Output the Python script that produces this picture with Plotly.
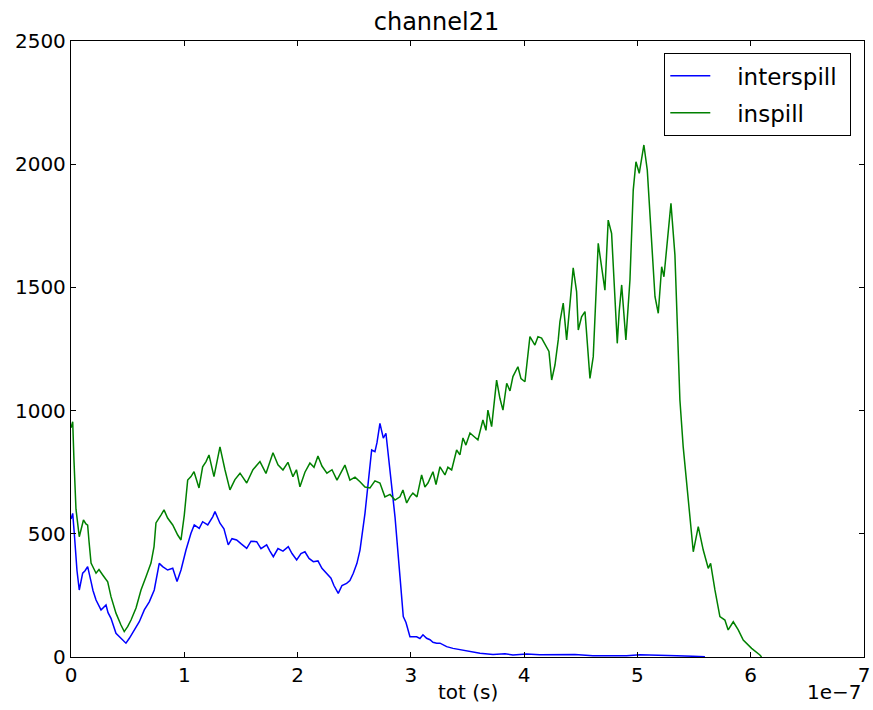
import plotly.graph_objects as go

# x values in units of 1e-7 s (tot), y values = counts
inspill_x = [0.0, 0.015, 0.026, 0.044, 0.073, 0.088, 0.110, 0.132, 0.147, 0.159, 0.177, 0.221, 0.247, 0.280, 0.300,
             0.324, 0.353, 0.397, 0.441, 0.470, 0.500, 0.530, 0.574, 0.618, 0.662, 0.706, 0.733, 0.750, 0.794,
             0.821, 0.853, 0.898, 0.942, 0.971, 1.000, 1.030, 1.059, 1.086, 1.130, 1.162, 1.192, 1.218, 1.262,
             1.289, 1.315, 1.359, 1.403, 1.447, 1.492, 1.551, 1.606, 1.668, 1.721, 1.783, 1.827, 1.871, 1.915,
             1.959, 1.990, 2.021, 2.065, 2.109, 2.145, 2.180, 2.215, 2.259, 2.304, 2.348, 2.383, 2.418, 2.462,
             2.507, 2.551, 2.595, 2.639, 2.683, 2.727, 2.771, 2.816, 2.860, 2.904, 2.930, 2.963, 2.992, 3.018,
             3.054, 3.095, 3.124, 3.151, 3.195, 3.222, 3.257, 3.301, 3.327, 3.360, 3.404, 3.433, 3.460, 3.486,
             3.522, 3.557, 3.592, 3.636, 3.663, 3.680, 3.713, 3.757, 3.786, 3.813, 3.846, 3.875, 3.901, 3.945,
             3.972, 4.007, 4.051, 4.095, 4.122, 4.154, 4.199, 4.219, 4.243, 4.272, 4.301, 4.316, 4.345, 4.375,
             4.404, 4.433, 4.463, 4.478, 4.507, 4.537, 4.581, 4.610, 4.654, 4.698, 4.713, 4.742, 4.772, 4.801,
             4.822, 4.839, 4.861, 4.898, 4.934, 4.963, 4.987, 5.016, 5.057, 5.087, 5.125, 5.155, 5.184, 5.214,
             5.234, 5.258, 5.296, 5.331, 5.375, 5.404, 5.463, 5.493, 5.537, 5.581, 5.625, 5.646, 5.684, 5.728,
             5.772, 5.801, 5.846, 5.890, 5.934, 6.008, 6.081, 6.096]
inspill_y = [930, 955, 800, 600, 488, 520, 556, 540, 535, 470, 381, 340, 355, 333, 320,
             305, 245, 178, 130, 103, 123, 150, 199, 272, 326, 381, 448, 544, 576,
             597, 564, 536, 495, 475, 576, 718, 732, 752, 686, 772, 793, 820, 732,
             800, 853, 760, 678, 720, 746, 706, 760, 793, 745, 829, 780, 759, 790,
             732, 760, 691, 750, 787, 770, 816, 775, 746, 760, 718, 750, 779, 718,
             730, 711, 690, 686, 715, 706, 650, 660, 637, 650, 678, 625, 650, 665,
             650, 739, 690, 706, 752, 700, 772, 739, 770, 759, 840, 820, 889, 860,
             909, 895, 881, 962, 920, 1002, 935, 1124, 1050, 1002, 1111, 1080, 1138, 1178,
             1130, 1117, 1300, 1266, 1300, 1294, 1259, 1240, 1124, 1185, 1287, 1361, 1436, 1287,
             1430, 1579, 1483, 1327, 1381, 1402, 1131, 1219, 1679, 1543, 1489, 1773, 1719, 1462,
             1273, 1402, 1510, 1287, 1530, 1895, 2010, 1963, 2078, 1976, 1672, 1462, 1395, 1584,
             1543, 1672, 1841, 1631, 1043, 853, 556, 427, 529, 434, 360, 380, 272, 164,
             150, 110, 143, 110, 69, 35, 8, 0]

interspill_x = [0.0, 0.015, 0.029, 0.053, 0.073, 0.103, 0.124, 0.147, 0.177, 0.194, 0.221, 0.265, 0.309, 0.327,
                0.353, 0.397, 0.441, 0.485, 0.515, 0.559, 0.603, 0.647, 0.691, 0.735, 0.779, 0.809, 0.853,
                0.898, 0.936, 0.971, 1.015, 1.059, 1.088, 1.132, 1.162, 1.207, 1.251, 1.271, 1.315, 1.350,
                1.388, 1.421, 1.462, 1.500, 1.551, 1.589, 1.639, 1.677, 1.727, 1.756, 1.786, 1.827, 1.871,
                1.918, 1.951, 1.992, 2.030, 2.065, 2.101, 2.139, 2.180, 2.215, 2.257, 2.295, 2.321, 2.359,
                2.392, 2.433, 2.462, 2.492, 2.524, 2.551, 2.595, 2.639, 2.654, 2.683, 2.701, 2.727, 2.757,
                2.780, 2.816, 2.860, 2.904, 2.933, 2.957, 2.992, 3.018, 3.051, 3.080, 3.107, 3.139, 3.169,
                3.195, 3.228, 3.257, 3.316, 3.372, 3.460, 3.548, 3.610, 3.725, 3.831, 3.901, 4.022, 4.139,
                4.316, 4.448, 4.607, 4.757, 4.905, 5.022, 5.198, 5.346, 5.490, 5.596]
interspill_y = [560, 583, 502, 350, 272, 340, 350, 367, 306, 270, 231, 191, 211, 180,
                157, 96, 76, 56, 76, 110, 143, 191, 224, 272, 380, 367, 353,
                360, 306, 353, 434, 502, 536, 522, 549, 536, 569, 590, 543, 520,
                455, 480, 475, 460, 441, 470, 468, 440, 455, 430, 407, 440, 430,
                448, 420, 394, 420, 427, 400, 387, 390, 360, 340, 320, 290, 258,
                290, 299, 310, 340, 380, 434, 583, 772, 840, 833, 870, 948, 888,
                908, 746, 569, 326, 164, 140, 82, 82, 82, 75, 90, 76, 70,
                60, 56, 56, 42, 35, 28, 18, 15, 10, 13, 8, 12, 9,
                8, 10, 5, 6, 5, 9, 8, 5, 3, 1]

x_ticks = [0, 1, 2, 3, 4, 5, 6, 7]
y_ticks = [0, 500, 1000, 1500, 2000, 2500]
SCALE = 1e-7

FONT = "DejaVu Sans"
NB = "\u00a0"

fig = go.Figure()
fig.add_trace(go.Scatter(x=[v * SCALE for v in interspill_x], y=interspill_y, mode="lines",
                         name=NB * 3 + "interspill" + NB, legendgroup="a",
                         line=dict(color="#0000ff", width=1.5)))
fig.add_trace(go.Scatter(x=[v * SCALE for v in inspill_x], y=inspill_y, mode="lines",
                         name=NB * 3 + "inspill" + NB, legendgroup="b",
                         line=dict(color="#008000", width=1.5)))

axis_common = dict(showline=True, linecolor="black", linewidth=1.3, mirror="ticks",
                   ticks="inside", ticklen=5, tickwidth=1, tickcolor="black",
                   showgrid=False, zeroline=False, automargin=False,
                   tickfont=dict(family=FONT, size=20, color="black"))

fig.update_xaxes(range=[0, 7 * SCALE], tickvals=[t * SCALE for t in x_ticks],
                 ticktext=[str(t) for t in x_ticks], **axis_common)
fig.update_yaxes(range=[0, 2500], tickvals=y_ticks, ticktext=[str(t) for t in y_ticks],
                 **axis_common)

fig.update_layout(
    width=873, height=710,
    margin=dict(l=71, r=9, t=41, b=53, autoexpand=False),
    paper_bgcolor="white", plot_bgcolor="white",
    font=dict(family=FONT, size=20, color="black"),
    title=dict(text="channel21", x=0.5, xanchor="center", y=1 - 22 / 710, yanchor="middle",
               font=dict(family=FONT, size=24, color="black")),
    legend=dict(x=(851 - 71) / 793, y=(657 - 53) / 616, xanchor="right", yanchor="top",
                bordercolor="black", borderwidth=1.3, bgcolor="white",
                font=dict(family=FONT, size=23, color="black"),
                traceorder="grouped", tracegroupgap=4, itemwidth=40),
    showlegend=True,
)

fig.add_annotation(text="tot (s)", xref="paper", yref="paper", x=0.5, y=(657 - 692) / 616,
                   xanchor="center", yanchor="middle", showarrow=False,
                   font=dict(family=FONT, size=20, color="black"))
fig.add_annotation(text="1e\u22127", xref="paper", yref="paper", x=1.0, y=(657 - 692) / 616,
                   xanchor="right", yanchor="middle", showarrow=False,
                   font=dict(family=FONT, size=20, color="black"))

fig.write_html("out.html")
